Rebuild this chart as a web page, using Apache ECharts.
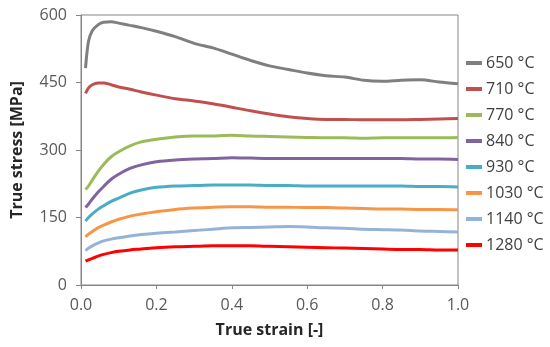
<!DOCTYPE html>
<html>
<head>
<meta charset="utf-8">
<script src="https://cdn.jsdelivr.net/npm/echarts@6/dist/echarts.min.js"></script>
<style>html,body{margin:0;padding:0;background:#fff;}#c{width:550px;height:347px;}</style>
</head>
<body>
<div id="c"></div>
<script>
var strain = [0.012, 0.02, 0.03, 0.045, 0.06, 0.08, 0.1, 0.13, 0.16, 0.2, 0.25, 0.3, 0.35, 0.4, 0.45, 0.5, 0.55, 0.6, 0.65, 0.7, 0.75, 0.8, 0.85, 0.9, 0.95, 1.0];
var names = ['650 °C', '710 °C', '770 °C', '840 °C', '930 °C', '1030 °C', '1140 °C', '1280 °C'];
var colors = ['#7f7f7f', '#c0504d', '#9bbb59', '#8064a2', '#4bacc6', '#f79646', '#95b3d7', '#ff0000'];
var s650 = [482, 542, 565, 578, 584, 585, 582, 577, 572, 564, 552, 537, 527, 513, 499, 487, 479, 471, 465, 462, 455, 453, 455, 456, 451, 447];
var s710 = [426, 438, 445, 449, 449, 445, 440, 435, 429, 422, 414, 409, 403, 395, 387, 380, 374, 370, 368, 368, 367, 367, 367, 368, 369, 370];
var s770 = [212, 220, 233, 252, 268, 285, 296, 309, 318, 324, 329, 331, 331, 333, 331, 330, 329, 328, 327, 327, 326, 327, 327, 327, 327, 328];
var s840 = [172, 180, 191, 206, 219, 235, 246, 259, 267, 274, 278, 280, 281, 283, 282, 281, 281, 281, 281, 281, 281, 281, 281, 280, 280, 279];
var s930 = [142, 150, 158, 168, 176, 186, 193, 204, 211, 217, 220, 221, 222, 222, 222, 221, 221, 220, 220, 220, 220, 220, 220, 219, 219, 218];
var s1030 = [107, 113, 119, 127, 133, 140, 146, 153, 158, 163, 168, 171, 173, 174, 174, 173, 173, 172, 172, 171, 170, 169, 169, 168, 168, 167];
var s1140 = [76, 82, 87, 93, 98, 102, 105, 109, 112, 115, 118, 121, 124, 127, 128, 129, 130, 129, 127, 126, 124, 123, 122, 120, 119, 118];
var s1280 = [53, 56, 59, 64, 68, 72, 75, 78, 80, 83, 85, 86, 87, 87, 87, 86, 85, 84, 83, 82, 81, 80, 79, 79, 78, 78];
var values = [s650, s710, s770, s840, s930, s1030, s1140, s1280];
var xTicks = [0, 0.2, 0.4, 0.6, 0.8, 1.0];
var yTicks = [0, 150, 300, 450, 600];

var font = '"Open Sans", "DejaVu Sans", sans-serif';
var series = names.map(function (n, i) {
  return {
    name: n, type: 'line', showSymbol: false, symbol: 'none', smooth: 0.3,
    lineStyle: { color: colors[i], width: 3 }, itemStyle: { color: colors[i] },
    data: strain.map(function (x, j) { return [x, values[i][j]]; })
  };
});
var chart = echarts.init(document.getElementById('c'), null, { renderer: 'canvas' });
chart.setOption({
  animation: false,
  backgroundColor: '#fff',
  grid: { left: 81, right: 92, top: 15, bottom: 62, show: true, borderColor: '#868686', borderWidth: 1 },
  legend: {
    orient: 'vertical', left: 466, top: 53, padding: 0, itemGap: 6,
    icon: 'rect', itemWidth: 16, itemHeight: 4,
    data: names,
    textStyle: { fontFamily: font, fontSize: 16, color: '#404040', lineHeight: 20, padding: [0, 0, 0, -1] }
  },
  xAxis: {
    type: 'value', min: 0, max: 1, interval: 0.2,
    name: 'True strain [-]', nameLocation: 'middle', nameGap: 37,
    nameTextStyle: { fontFamily: font, fontSize: 16, fontWeight: 'bold', color: '#262626' },
    axisLine: { show: true, lineStyle: { color: '#868686', width: 1 } },
    axisTick: { show: true, length: 4, lineStyle: { color: '#868686' } },
    axisLabel: { fontFamily: font, fontSize: 16, color: '#595959', margin: 12,
      customValues: xTicks, formatter: function (v) { return v.toFixed(1); } },
    splitLine: { show: false }
  },
  yAxis: {
    type: 'value', min: 0, max: 600, interval: 150,
    name: 'True stress [MPa]', nameLocation: 'middle', nameGap: 56, nameRotate: 90,
    nameTextStyle: { fontFamily: font, fontSize: 16, fontWeight: 'bold', color: '#262626' },
    axisLine: { show: true, lineStyle: { color: '#868686', width: 1 } },
    axisTick: { show: true, length: 5, lineStyle: { color: '#868686' } },
    axisLabel: { fontFamily: font, fontSize: 16, color: '#595959', margin: 14 },
    splitLine: { show: false }
  },
  series: series
});
</script>
</body>
</html>
